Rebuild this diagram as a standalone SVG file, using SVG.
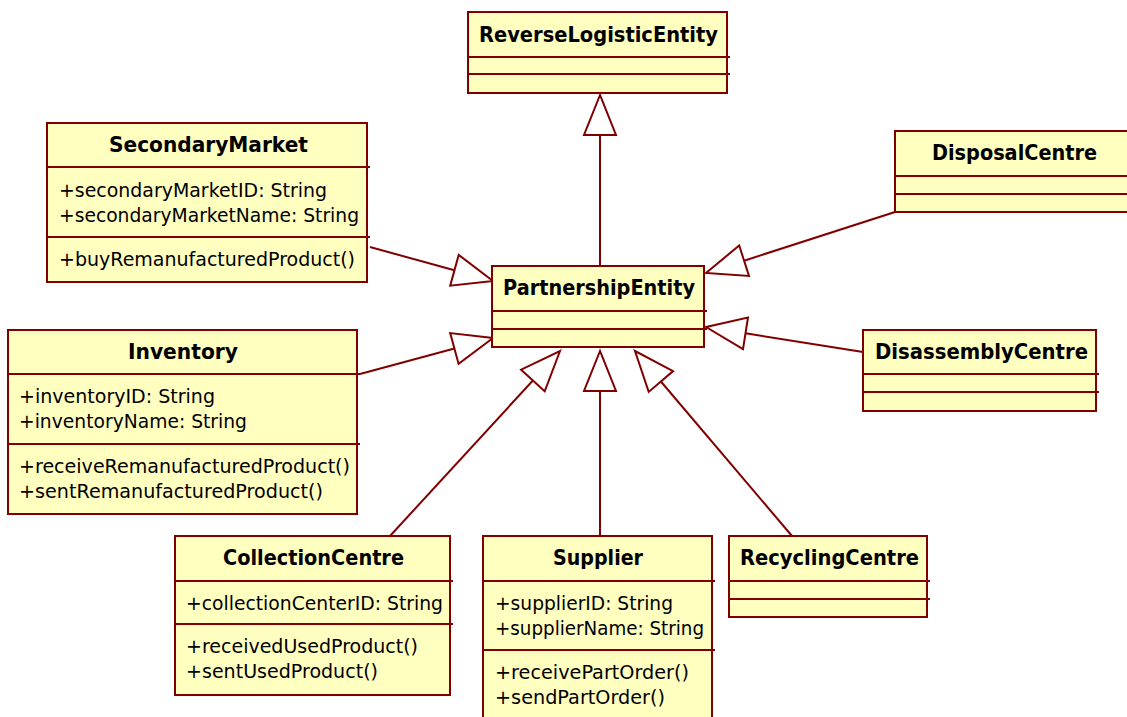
<svg xmlns="http://www.w3.org/2000/svg" width="1127" height="717" viewBox="0 0 1127 717">
  <style>
    .box { fill: #FFFFC0; stroke: #800000; stroke-width: 2; }
    .div { stroke: #800000; stroke-width: 2; fill: none; }
    .title { font-family: "DejaVu Sans", Verdana, sans-serif; font-weight: bold; font-size: 20.5px; fill: #000; }
    .member { font-family: "DejaVu Sans", Verdana, sans-serif; font-size: 19.5px; fill: #000; }
    .edge { stroke: #800000; stroke-width: 2; fill: none; }
    .head { stroke: #800000; stroke-width: 2; fill: #FFFFFF; stroke-linejoin: miter; }
  </style>

  <!-- generalization connectors -->
  <g id="connectors">
    <!-- PartnershipEntity -> ReverseLogisticEntity -->
    <line class="edge" x1="600" y1="266" x2="600" y2="135"/>
    <polygon class="head" points="600,95 584,135 616,135"/>
    <!-- SecondaryMarket -> PartnershipEntity -->
    <line class="edge" x1="370" y1="247" x2="454.4" y2="270.3"/>
    <polygon class="head" points="493,281 450.2,285.7 458.7,254.9"/>
    <!-- Inventory -> PartnershipEntity -->
    <line class="edge" x1="360" y1="374" x2="454.4" y2="348.5"/>
    <polygon class="head" points="493,338 458.6,363.9 450.2,333.1"/>
    <!-- CollectionCentre -> PartnershipEntity -->
    <line class="edge" x1="390" y1="536" x2="532.9" y2="380.5"/>
    <polygon class="head" points="560,351 544.7,391.3 521.1,369.7"/>
    <!-- Supplier -> PartnershipEntity -->
    <line class="edge" x1="600" y1="536" x2="600" y2="391"/>
    <polygon class="head" points="600,351 584,391 616,391"/>
    <!-- RecyclingCentre -> PartnershipEntity -->
    <line class="edge" x1="792" y1="536" x2="660.9" y2="381.5"/>
    <polygon class="head" points="635,351 673.1,371.1 648.7,391.9"/>
    <!-- DisposalCentre -> PartnershipEntity -->
    <line class="edge" x1="895" y1="212" x2="744.1" y2="260.7"/>
    <polygon class="head" points="706,273 739.2,245.5 749,275.9"/>
    <!-- DisassemblyCentre -> PartnershipEntity -->
    <line class="edge" x1="863" y1="352" x2="745.5" y2="333.3"/>
    <polygon class="head" points="706,327 748,317.5 743,349.1"/>
  </g>

  <g id="ReverseLogisticEntity">
    <rect class="box" x="468" y="12" width="259" height="81"/>
    <line class="div" x1="468" y1="57" x2="730" y2="57"/>
    <line class="div" x1="468" y1="74" x2="730" y2="74"/>
    <text class="title" x="598.5" y="42" text-anchor="middle" textLength="239" lengthAdjust="spacingAndGlyphs">ReverseLogisticEntity</text>
  </g>

  <g id="SecondaryMarket">
    <rect class="box" x="47" y="123" width="320" height="159"/>
    <line class="div" x1="47" y1="167" x2="370" y2="167"/>
    <line class="div" x1="47" y1="237" x2="370" y2="237"/>
    <text class="title" x="208.5" y="152" text-anchor="middle" textLength="199" lengthAdjust="spacingAndGlyphs">SecondaryMarket</text>
    <text class="member" x="59" y="197" textLength="268" lengthAdjust="spacingAndGlyphs">+secondaryMarketID: String</text>
    <text class="member" x="59" y="222" textLength="300" lengthAdjust="spacingAndGlyphs">+secondaryMarketName: String</text>
    <text class="member" x="59" y="266" textLength="296" lengthAdjust="spacingAndGlyphs">+buyRemanufacturedProduct()</text>
  </g>

  <g id="PartnershipEntity">
    <rect class="box" x="492" y="266" width="212" height="81"/>
    <line class="div" x1="492" y1="311" x2="707" y2="311"/>
    <line class="div" x1="492" y1="329" x2="707" y2="329"/>
    <text class="title" x="599" y="295" text-anchor="middle" textLength="192" lengthAdjust="spacingAndGlyphs">PartnershipEntity</text>
  </g>

  <g id="DisposalCentre">
    <rect class="box" x="895" y="131" width="240" height="81"/>
    <line class="div" x1="895" y1="176" x2="1135" y2="176"/>
    <line class="div" x1="895" y1="194" x2="1135" y2="194"/>
    <text class="title" x="1014.5" y="160" text-anchor="middle" textLength="165" lengthAdjust="spacingAndGlyphs">DisposalCentre</text>
  </g>

  <g id="Inventory">
    <rect class="box" x="8" y="330" width="349" height="184"/>
    <line class="div" x1="8" y1="374" x2="360" y2="374"/>
    <line class="div" x1="8" y1="444" x2="360" y2="444"/>
    <text class="title" x="183" y="359" text-anchor="middle" textLength="110" lengthAdjust="spacingAndGlyphs">Inventory</text>
    <text class="member" x="19" y="403" textLength="196" lengthAdjust="spacingAndGlyphs">+inventoryID: String</text>
    <text class="member" x="19" y="428" textLength="228" lengthAdjust="spacingAndGlyphs">+inventoryName: String</text>
    <text class="member" x="19" y="473" textLength="331" lengthAdjust="spacingAndGlyphs">+receiveRemanufacturedProduct()</text>
    <text class="member" x="19" y="498" textLength="304" lengthAdjust="spacingAndGlyphs">+sentRemanufacturedProduct()</text>
  </g>

  <g id="DisassemblyCentre">
    <rect class="box" x="863" y="330" width="233" height="81"/>
    <line class="div" x1="863" y1="374" x2="1099" y2="374"/>
    <line class="div" x1="863" y1="392" x2="1099" y2="392"/>
    <text class="title" x="981.5" y="359" text-anchor="middle" textLength="213" lengthAdjust="spacingAndGlyphs">DisassemblyCentre</text>
  </g>

  <g id="CollectionCentre">
    <rect class="box" x="175" y="536" width="275" height="159"/>
    <line class="div" x1="175" y1="581" x2="453" y2="581"/>
    <line class="div" x1="175" y1="624" x2="453" y2="624"/>
    <text class="title" x="313.5" y="565" text-anchor="middle" textLength="181" lengthAdjust="spacingAndGlyphs">CollectionCentre</text>
    <text class="member" x="186" y="610" textLength="257" lengthAdjust="spacingAndGlyphs">+collectionCenterID: String</text>
    <text class="member" x="186" y="653" textLength="232" lengthAdjust="spacingAndGlyphs">+receivedUsedProduct()</text>
    <text class="member" x="186" y="678" textLength="192" lengthAdjust="spacingAndGlyphs">+sentUsedProduct()</text>
  </g>

  <g id="Supplier">
    <rect class="box" x="483" y="536" width="229" height="200"/>
    <line class="div" x1="483" y1="581" x2="715" y2="581"/>
    <line class="div" x1="483" y1="650" x2="715" y2="650"/>
    <text class="title" x="598" y="565" text-anchor="middle" textLength="90" lengthAdjust="spacingAndGlyphs">Supplier</text>
    <text class="member" x="495" y="610" textLength="178" lengthAdjust="spacingAndGlyphs">+supplierID: String</text>
    <text class="member" x="495" y="635" textLength="209" lengthAdjust="spacingAndGlyphs">+supplierName: String</text>
    <text class="member" x="495" y="679" textLength="194" lengthAdjust="spacingAndGlyphs">+receivePartOrder()</text>
    <text class="member" x="495" y="704" textLength="170" lengthAdjust="spacingAndGlyphs">+sendPartOrder()</text>
  </g>

  <g id="RecyclingCentre">
    <rect class="box" x="729" y="536" width="198" height="81"/>
    <line class="div" x1="729" y1="581" x2="930" y2="581"/>
    <line class="div" x1="729" y1="599" x2="930" y2="599"/>
    <text class="title" x="829.5" y="565" text-anchor="middle" textLength="179" lengthAdjust="spacingAndGlyphs">RecyclingCentre</text>
  </g>
</svg>
